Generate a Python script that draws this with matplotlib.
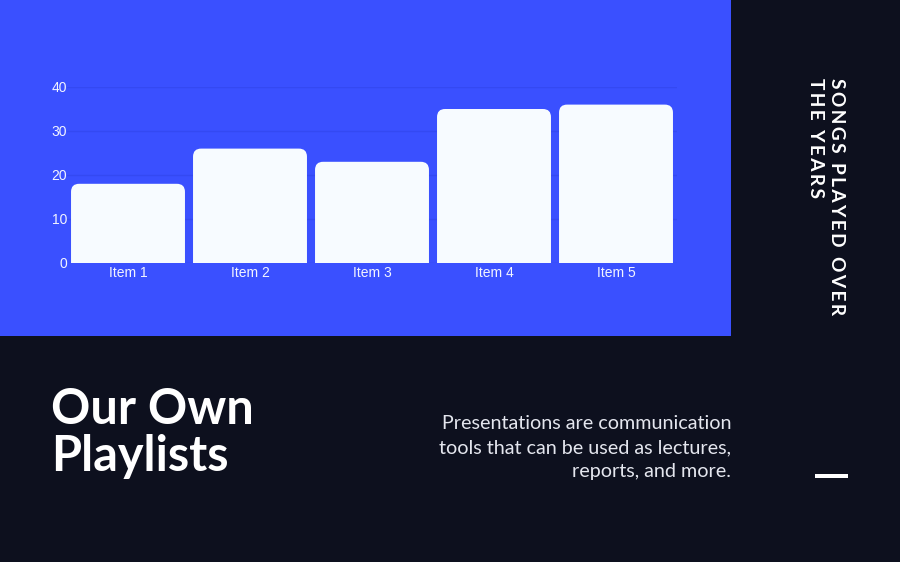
import matplotlib.pyplot as plt
from matplotlib.patches import FancyBboxPatch, Rectangle

categories = ["Item 1", "Item 2", "Item 3", "Item 4", "Item 5"]
songs_played = [18, 26, 23, 35, 36]
y_ticks = [0, 10, 20, 30, 40]

BLUE = "#3a50ff"
DARK = "#0d101e"
BAR = "#f7fbff"

fig = plt.figure(figsize=(9, 5.62), dpi=100)
fig.patch.set_facecolor(DARK)

# blue panel behind the chart
fig.add_artist(Rectangle((0, 1 - 336 / 562), 731 / 900, 336 / 562,
                         transform=fig.transFigure, facecolor=BLUE,
                         edgecolor="none", zorder=0))

ax = fig.add_axes([67 / 900, 1 - 263 / 562, 610 / 900, 176 / 562])
ax.set_facecolor("none")
ax.set_xlim(-0.5, len(categories) - 0.5)
ax.set_ylim(0, 40)

bars = ax.bar(range(len(categories)), songs_played, width=0.934,
              color="none", edgecolor="none")
# data units per px ratio, keeps the rounded corners circular
aspect = (40 / 176) / (len(categories) / 610)
for b in bars:
    r = 0.066
    patch = FancyBboxPatch((b.get_x(), -3), b.get_width(), b.get_height() + 3,
                           boxstyle=f"round,pad=0,rounding_size={r}",
                           mutation_aspect=aspect, facecolor=BAR,
                           edgecolor="none", zorder=3)
    ax.add_patch(patch)

ax.set_xticks(range(len(categories)), categories)
ax.set_yticks(y_ticks)
ax.tick_params(length=0, colors="#f2f4ff", labelsize=10)
ax.tick_params(axis="x", pad=2)
ax.tick_params(axis="y", pad=0)
for s in ax.spines.values():
    s.set_visible(False)
ax.grid(axis="y", color="#3449f2", lw=1, zorder=0)
ax.set_axisbelow(True)
for lbl in ax.get_xticklabels() + ax.get_yticklabels():
    lbl.set_fontfamily("Liberation Sans")

# headline and copy
fig.text(51 / 900, 1 - 424 / 562, "Our Own", color="white",
         fontsize=35, fontweight="bold", family="Lato", va="baseline")
fig.text(51 / 900, 1 - 471 / 562, "Playlists", color="white",
         fontsize=35, fontweight="bold", family="Lato", va="baseline")

body = ["Presentations are communication",
        "tools that can be used as lectures,",
        "reports, and more."]
for i, line in enumerate(body):
    fig.text(731 / 900, 1 - (429 + 24 * i) / 562, line, color="#e4e6ee",
             fontsize=14.2, family="Lato", fontweight="normal",
             ha="right", va="baseline")

sp = "\u2009"
side = [sp.join("SONGS PLAYED OVER"), sp.join("THE YEARS")]
fig.text(826 / 900, 1 - 78 / 562, "\n".join(side),
         color="white", fontsize=13.8, fontweight="bold",
         family=["Lato", "DejaVu Sans"],
         rotation=-90, ha="center", va="top", multialignment="left",
         linespacing=1.25)

fig.add_artist(Rectangle((815 / 900, 1 - 478 / 562), 33 / 900, 4 / 562,
                         transform=fig.transFigure, facecolor="white",
                         edgecolor="none"))

fig.savefig("out.png", dpi=100, facecolor=DARK)
